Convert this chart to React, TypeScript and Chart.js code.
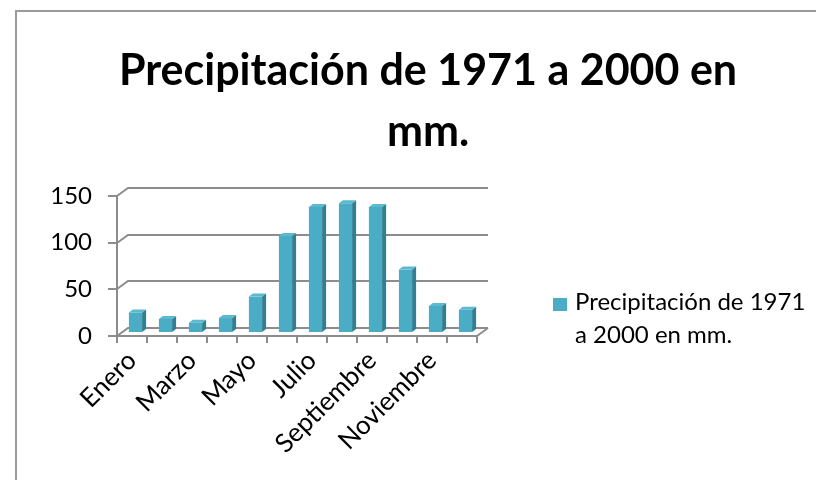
import React, { useEffect, useRef } from 'react';
import { Chart, registerables } from 'chart.js';

Chart.register(...registerables);

// ---- data ----
const categories = ['Enero', 'Febrero', 'Marzo', 'Abril', 'Mayo', 'Junio', 'Julio', 'Agosto', 'Septiembre', 'Octubre', 'Noviembre', 'Diciembre'];
const precipitation = [22, 15, 11, 16, 39, 104, 135, 139, 135, 68, 29, 25];
const yTickValues = [0, 50, 100, 150];
const titleLines = ['Precipitación de 1971 a 2000 en', 'mm.'];
const seriesName = 'Precipitación de 1971 a 2000 en mm.';
const legendLines = ['Precipitación de 1971', 'a 2000 en mm.'];

// ---- style ----
const FONT = 'Lato, "Open Sans", sans-serif';
const GRAY = '#8c8c8c';
const BAR_FRONT = '#4BACC6';
const BAR_SIDE = '#327E92';
const BAR_TOP = '#5BB9D0';
const WALL_DX = 11;
const WALL_DY = 8;
const BAR_SHIFT_X = 3.5;
const BAR_SHIFT_Y = -3;
const BAR_DX = 4;
const BAR_DY = 3;

const decor = {
  id: 'excelDecor',
  beforeDraw(chart: any) {
    const ctx = chart.ctx;
    ctx.save();
    ctx.strokeStyle = '#9a9a9a';
    ctx.lineWidth = 2;
    ctx.beginPath();
    ctx.moveTo(16, 480);
    ctx.lineTo(16, 11);
    ctx.lineTo(816, 11);
    ctx.stroke();
    ctx.restore();
  },
  beforeDatasetsDraw(chart: any) {
    const ctx = chart.ctx;
    const { left, right, bottom } = chart.chartArea;
    const ys = chart.scales.y;
    ctx.save();
    ctx.strokeStyle = GRAY;
    ctx.lineWidth = 2;
    ctx.beginPath();
    yTickValues.forEach((v) => {
      const y = Math.round(ys.getPixelForValue(v));
      ctx.moveTo(left, y);
      ctx.lineTo(left + WALL_DX, y - WALL_DY);
      ctx.lineTo(right + WALL_DX, y - WALL_DY);
    });
    ctx.moveTo(right, Math.round(bottom));
    ctx.lineTo(right + WALL_DX, Math.round(bottom) - WALL_DY);
    ctx.stroke();
    ctx.restore();
    ctx.save();
    ctx.translate(BAR_SHIFT_X, BAR_SHIFT_Y);
  },
  afterDatasetsDraw(chart: any) {
    const ctx = chart.ctx;
    chart.data.datasets.forEach((_: any, di: number) => {
      const meta = chart.getDatasetMeta(di);
      meta.data.forEach((bar: any) => {
        const p = bar.getProps(['x', 'y', 'base', 'width'], true);
        const l = p.x - p.width / 2;
        const r = p.x + p.width / 2;
        const t = p.y;
        const b = p.base;
        ctx.fillStyle = BAR_SIDE;
        ctx.beginPath();
        ctx.moveTo(r, b);
        ctx.lineTo(r, t);
        ctx.lineTo(r + BAR_DX, t - BAR_DY);
        ctx.lineTo(r + BAR_DX, b - BAR_DY);
        ctx.closePath();
        ctx.fill();
        ctx.fillStyle = BAR_TOP;
        ctx.beginPath();
        ctx.moveTo(l, t);
        ctx.lineTo(r, t);
        ctx.lineTo(r + BAR_DX, t - BAR_DY);
        ctx.lineTo(l + BAR_DX, t - BAR_DY);
        ctx.closePath();
        ctx.fill();
      });
    });
    ctx.restore();
  },
  afterDraw(chart: any) {
    const ctx = chart.ctx;
    ctx.save();
    ctx.fillStyle = '#000';
    ctx.textAlign = 'center';
    ctx.textBaseline = 'alphabetic';
    ctx.font = `bold 43px ${FONT}`;
    ctx.fillText(titleLines[0], 428, 85);
    ctx.fillText(titleLines[1], 428, 146);
    // legend
    ctx.fillStyle = BAR_FRONT;
    ctx.fillRect(553, 298, 14, 13);
    ctx.fillStyle = '#000';
    ctx.textAlign = 'left';
    ctx.font = `24px ${FONT}`;
    ctx.fillText(legendLines[0], 575, 310);
    ctx.fillText(legendLines[1], 575, 343);
    ctx.restore();
  },
};

export default function App() {
  const ref = useRef<HTMLCanvasElement | null>(null);
  useEffect(() => {
    if (!ref.current) return;
    const chart = new Chart(ref.current, {
      type: 'bar',
      data: {
        labels: categories,
        datasets: [
          {
            label: seriesName,
            data: precipitation,
            backgroundColor: BAR_FRONT,
            borderWidth: 0,
            barPercentage: 0.44,
            categoryPercentage: 1,
            clip: false as any,
          },
        ],
      },
      options: {
        animation: false,
        responsive: false,
        layout: { padding: { left: 0, right: 339, top: 196, bottom: 0 } },
        plugins: {
          legend: { display: false },
          title: { display: false },
          tooltip: { enabled: false },
        },
        scales: {
          x: {
            type: 'category',
            offset: true,
            grid: { display: true, drawOnChartArea: false, drawTicks: true, tickLength: 7, color: GRAY, lineWidth: 2, offset: true },
            border: { display: true, color: GRAY, width: 2 },
            ticks: {
              autoSkip: false,
              minRotation: 45,
              maxRotation: 45,
              padding: 2,
              color: '#000',
              font: { family: FONT, size: 26 },
              callback: (_v: any, i: number) => (i % 2 === 0 ? categories[i] : ''),
            },
            afterFit: (s: any) => {
              s.height = 144;
            },
          },
          y: {
            min: 0,
            max: 150,
            grid: { display: true, drawOnChartArea: false, drawTicks: true, tickLength: 9, color: GRAY, lineWidth: 2 },
            border: { display: true, color: GRAY, width: 2 },
            ticks: {
              padding: 16,
              color: '#000',
              font: { family: FONT, size: 24 },
            },
            afterBuildTicks: (s: any) => {
              s.ticks = yTickValues.map((v) => ({ value: v }));
            },
            afterFit: (s: any) => {
              s.width = 117;
            },
          },
        },
      },
      plugins: [decor],
    });
    return () => chart.destroy();
  }, []);
  return (
    <div style={{ position: 'absolute', left: 0, top: 0, width: 816, height: 480, background: '#fff' }}>
      <canvas ref={ref} width={816} height={480} style={{ display: 'block' }} />
    </div>
  );
}
